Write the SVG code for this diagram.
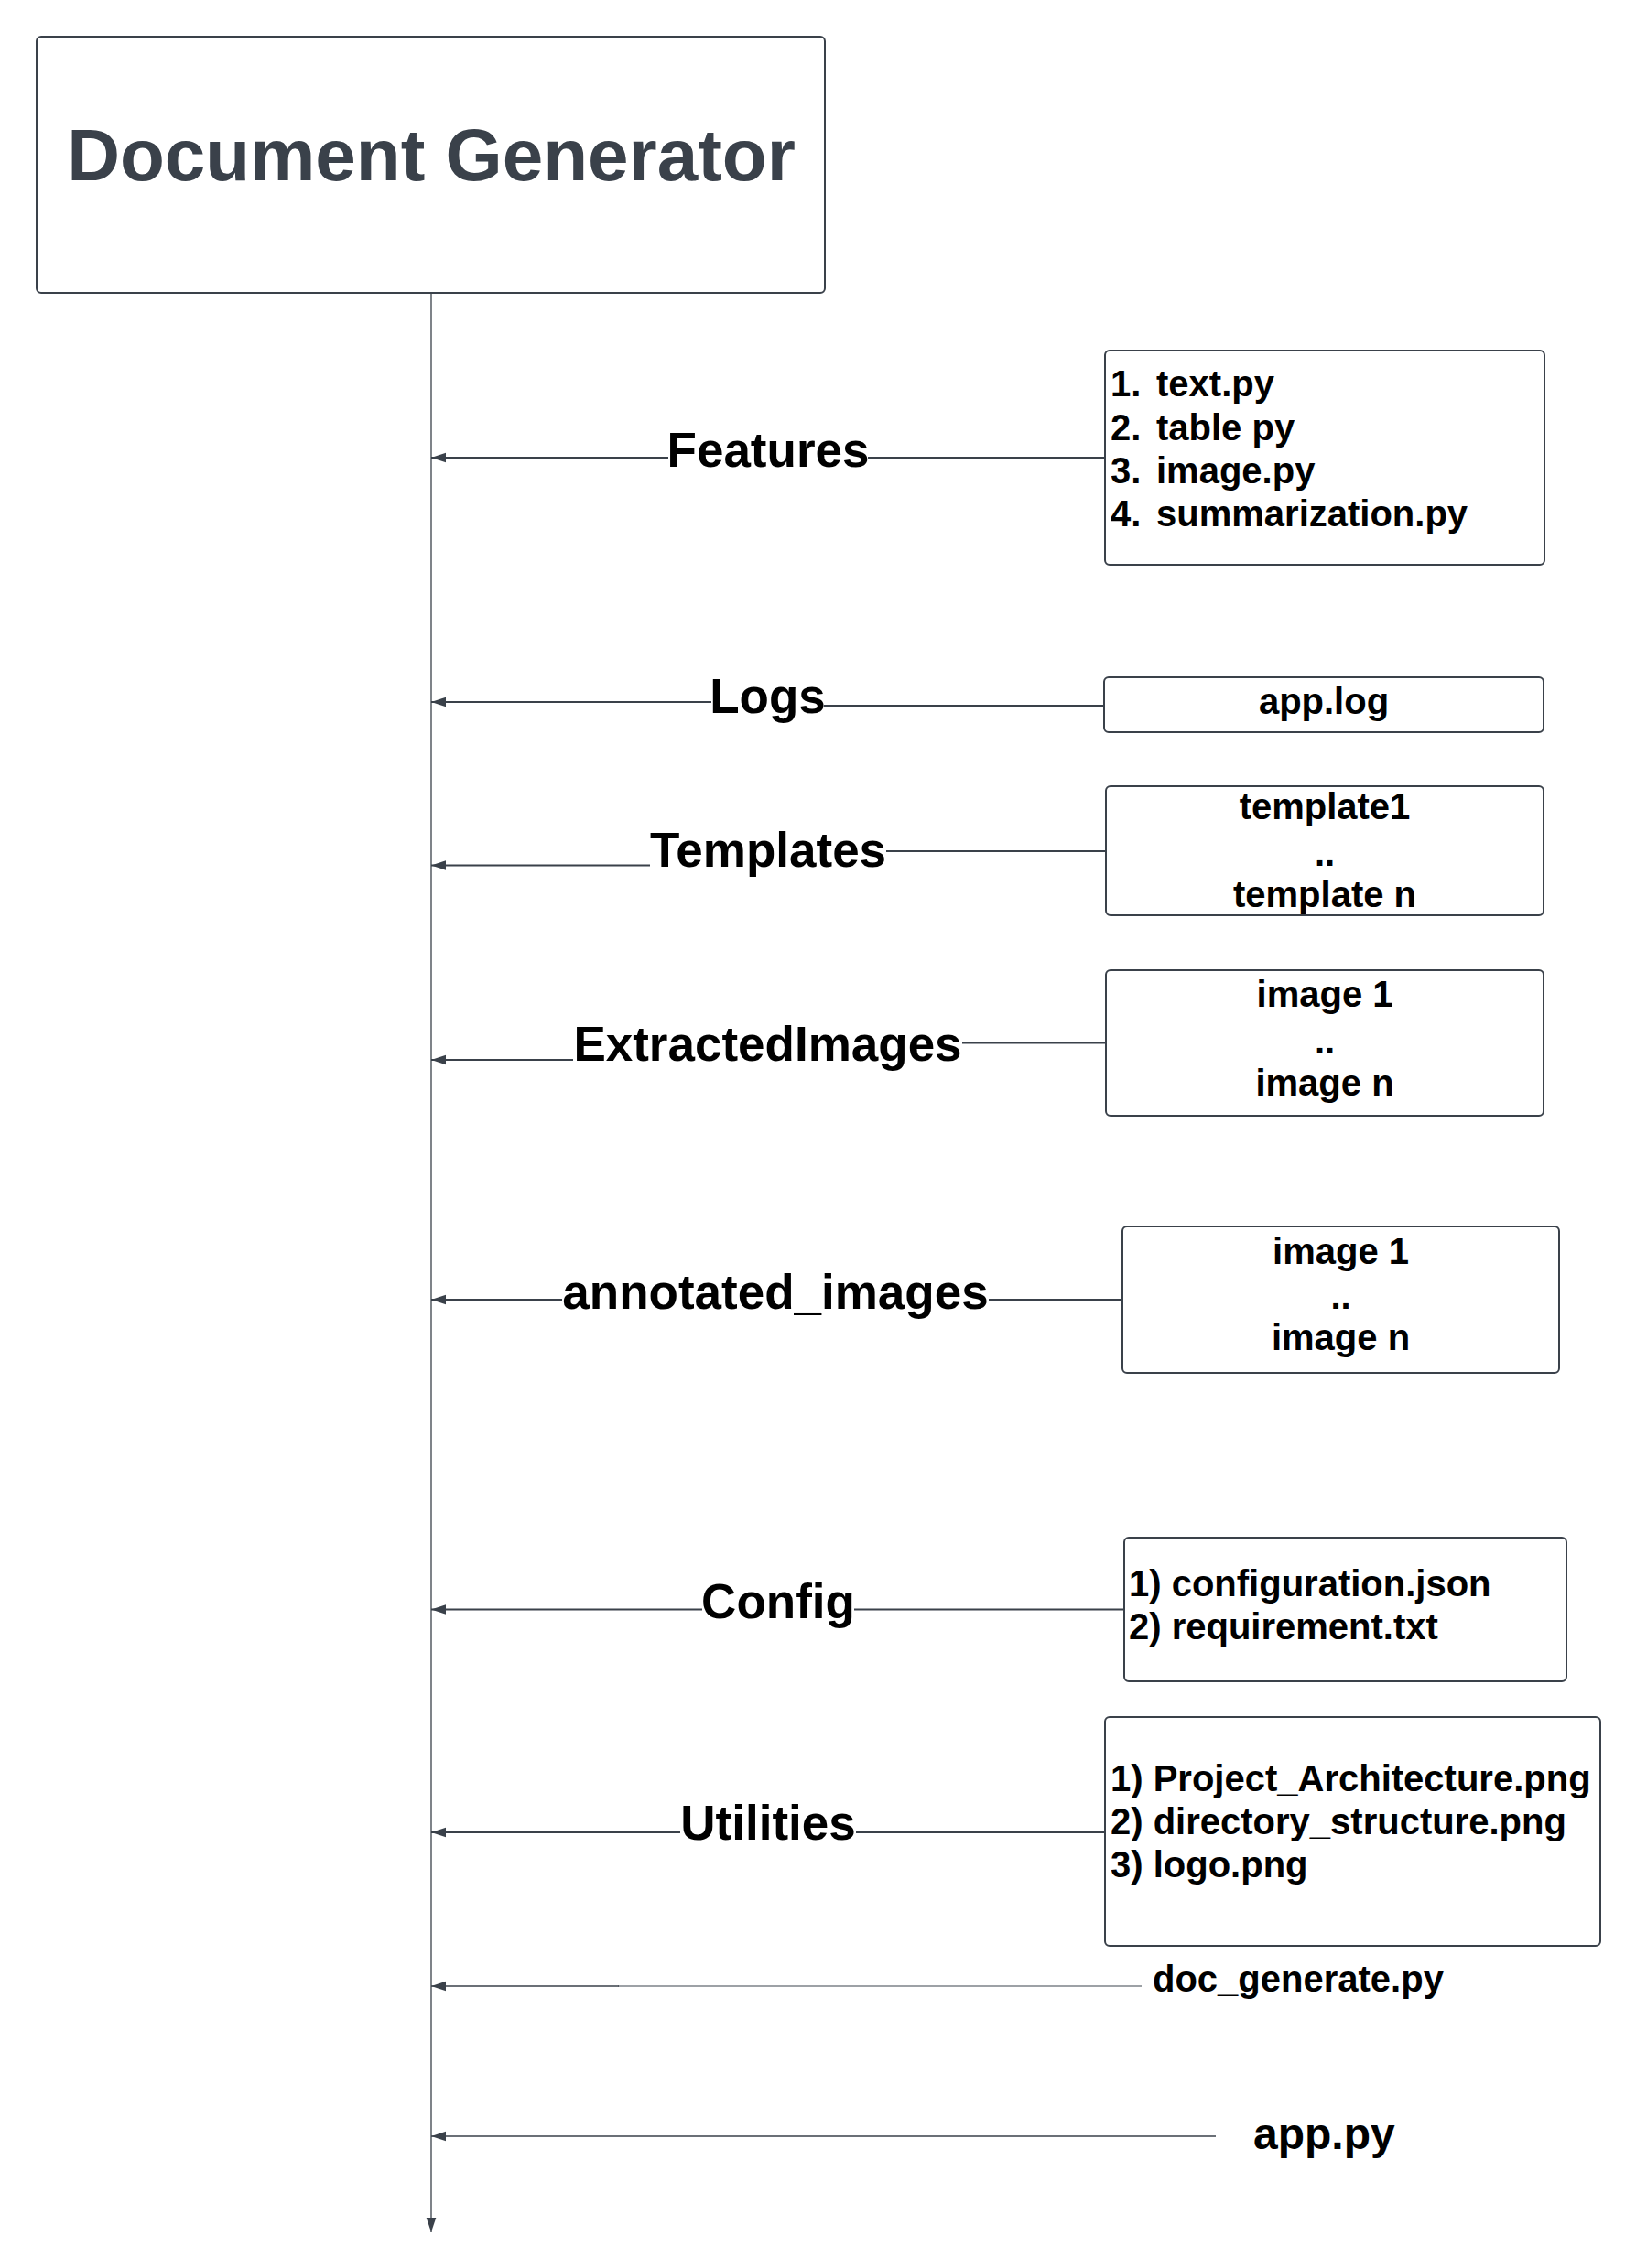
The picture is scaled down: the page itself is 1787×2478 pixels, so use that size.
<svg xmlns="http://www.w3.org/2000/svg" width="1787" height="2478" viewBox="0 0 1787 2478">
<defs>
<style>
.box{fill:#ffffff;stroke:#3a414a;stroke-width:2}
.t{font-family:"Liberation Sans",Arial,sans-serif;font-weight:bold;fill:#000000}
.title{font-size:80px;fill:#3a414a;text-anchor:middle}
.lbl{font-size:53px;text-anchor:middle}
.bx{font-size:40px}
.c{text-anchor:middle}
.ln{fill:none;stroke:#3a414a;stroke-width:2}
.thin{fill:none;stroke:#3a414a;stroke-width:1.3}
.gray{fill:none;stroke:#7d8288;stroke-width:1.3}
</style>
<marker id="ah" markerUnits="userSpaceOnUse" viewBox="0 -6 16 12" refX="16" refY="0" markerWidth="16" markerHeight="12" orient="auto">
<path d="M0,-5.3 L16,0 L0,5.3 Z" fill="#3a414a"/>
</marker>
</defs>
<rect width="1787" height="2478" fill="#ffffff"/>

<g id="connectors">
<path class="thin" d="M471,320 V2439" marker-end="url(#ah)"/>
<path class="ln" d="M1207,500 H948"/>
<path class="ln" d="M730,500 H471" marker-end="url(#ah)"/>
<path class="ln" d="M1206,771 H900"/>
<path class="ln" d="M777,767 H471" marker-end="url(#ah)"/>
<path class="ln" d="M1208,930 H968"/>
<path class="ln" d="M710,945.5 H471" marker-end="url(#ah)"/>
<path class="ln" d="M1208,1139.5 H1051"/>
<path class="ln" d="M626,1158 H471" marker-end="url(#ah)"/>
<path class="ln" d="M1226,1420 H1080"/>
<path class="ln" d="M614,1420 H471" marker-end="url(#ah)"/>
<path class="ln" d="M1228,1758.5 H933"/>
<path class="ln" d="M767,1758.5 H471" marker-end="url(#ah)"/>
<path class="ln" d="M1207,2002 H935"/>
<path class="ln" d="M743,2002 H471" marker-end="url(#ah)"/>
<path class="gray" d="M1247,2170 H675"/>
<path class="thin" d="M676,2170 H471" marker-end="url(#ah)"/>
<path class="thin" d="M1328,2334 H471" marker-end="url(#ah)"/>
<text class="t lbl" x="839" y="510">Features</text>
<text class="t lbl" x="838.5" y="779">Logs</text>
<text class="t lbl" x="839" y="947">Templates</text>
<text class="t lbl" x="838.5" y="1159">ExtractedImages</text>
<text class="t lbl" x="847" y="1430">annotated_images</text>
<text class="t lbl" x="850" y="1768">Config</text>
<text class="t lbl" x="839" y="2010">Utilities</text>
</g>

<g id="document-generator">
<rect class="box" x="40" y="40" width="861" height="280" rx="5"/>
<text class="t title" x="471" y="197">Document Generator</text>
</g>

<g id="features">
<rect class="box" x="1207" y="383" width="480" height="234" rx="5"/>
<text class="t bx" x="1213" y="433">1.</text><text class="t bx" x="1263" y="433">text.py</text>
<text class="t bx" x="1213" y="480.5">2.</text><text class="t bx" x="1263" y="480.5">table py</text>
<text class="t bx" x="1213" y="527.5">3.</text><text class="t bx" x="1263" y="527.5">image.py</text>
<text class="t bx" x="1213" y="575">4.</text><text class="t bx" x="1263" y="575">summarization.py</text>
</g>

<g id="logs">
<rect class="box" x="1206" y="740" width="480" height="60" rx="5"/>
<text class="t bx c" x="1446" y="780">app.log</text>
</g>

<g id="templates">
<rect class="box" x="1208" y="859" width="478" height="141" rx="5"/>
<text class="t bx c" x="1447" y="894.5">template1</text>
<text class="t bx c" x="1447" y="946">..</text>
<text class="t bx c" x="1447" y="991">template n</text>
</g>

<g id="extracted-images">
<rect class="box" x="1208" y="1060" width="478" height="159" rx="5"/>
<text class="t bx c" x="1447" y="1100">image 1</text>
<text class="t bx c" x="1447" y="1151">..</text>
<text class="t bx c" x="1447" y="1196.5">image n</text>
</g>

<g id="annotated-images">
<rect class="box" x="1226" y="1340" width="477" height="160" rx="5"/>
<text class="t bx c" x="1464.5" y="1381">image 1</text>
<text class="t bx c" x="1464.5" y="1430">..</text>
<text class="t bx c" x="1464.5" y="1475">image n</text>
</g>

<g id="config">
<rect class="box" x="1228" y="1680" width="483" height="157" rx="5"/>
<text class="t bx" x="1233" y="1744">1) configuration.json</text>
<text class="t bx" x="1233" y="1791">2) requirement.txt</text>
</g>

<g id="utilities">
<rect class="box" x="1207" y="1876" width="541" height="250" rx="5"/>
<text class="t bx" x="1213" y="1957">1) Project_Architecture.png</text>
<text class="t bx" x="1213" y="2004">2) directory_structure.png</text>
<text class="t bx" x="1213" y="2051">3) logo.png</text>
</g>

<g id="doc-generate">
<text class="t bx" x="1259" y="2176">doc_generate.py</text>
</g>

<g id="app">
<text class="t" x="1369" y="2348" font-size="48">app.py</text>
</g>
</svg>
